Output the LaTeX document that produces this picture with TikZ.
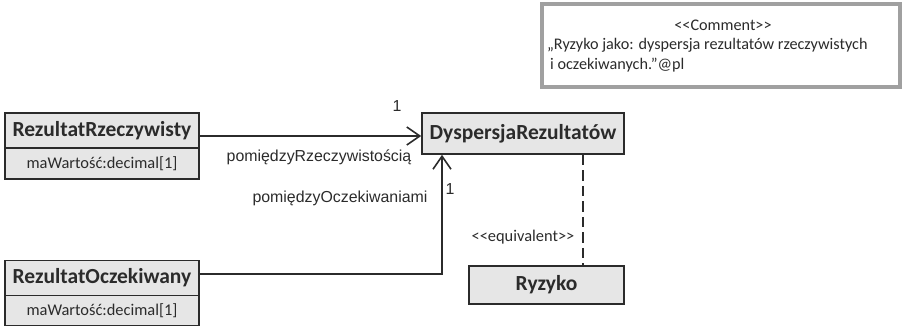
\documentclass[tikz,border=0pt]{standalone}
\usepackage{fontspec}
\setmainfont{Carlito}
\newfontfamily\arialfont{Liberation Sans}
\usetikzlibrary{arrows.meta}
\definecolor{boxfill}{HTML}{E6E6E6}
\definecolor{linec}{HTML}{2B2B2B}
\definecolor{notec}{HTML}{A0A0A0}
\begin{document}
\begin{tikzpicture}[x=1pt,y=-1pt,
  clsname/.style={draw=linec, fill=boxfill, line width=1.6pt, inner sep=0pt,
    font=\bfseries\fontsize{21.5}{24}\selectfont, text=linec},
  clsattr/.style={draw=linec, fill=boxfill, line width=1.6pt, inner sep=0pt,
    font=\fontsize{16.4}{19}\selectfont, text=linec},
  assoc/.style={draw=linec, line width=1.6pt, -{Straight Barb[length=13pt,width=18pt,line width=1.6pt]}},
  rolelab/.style={font=\arialfont\fontsize{15.9}{18}\selectfont, text=linec, inner sep=0pt},
  stereo/.style={font=\fontsize{16.4}{19}\selectfont, text=linec, inner sep=0pt},
  notetext/.style={font=\fontsize{16.2}{19}\selectfont, text=linec, inner sep=0pt}]
\useasboundingbox (0,0) rectangle (903,327);
% comment
\node[draw=notec, line width=3.2pt, fill=white, minimum width=358pt, minimum height=83pt, inner sep=0pt] (note) at (721,45.5) {};
\node[notetext] (notehead) at (723,25) {<{}<Comment>{}>};
\node[notetext, anchor=west] (noteline1) at (547,45) {„Ryzyko jako: dyspersja rezultatów rzeczywistych};
\node[notetext, anchor=west] (noteline2) at (547,65) {\hspace*{3pt}i oczekiwanych.”@pl};
% classes
\node[clsname, minimum width=194pt, minimum height=35pt] (rr) at (102,130.5) {RezultatRzeczywisty};
\node[clsattr, minimum width=194pt, minimum height=31pt] (rra) at (102,163.5) {maWartość:decimal[1]};
\node[clsname, minimum width=194pt, minimum height=35pt] (ro) at (102,278) {RezultatOczekiwany};
\node[clsattr, minimum width=194pt, minimum height=30pt] (roa) at (102,310.5) {maWartość:decimal[1]};
\node[clsname, minimum width=202pt, minimum height=41pt] (dr) at (523,133.5) {DyspersjaRezultatów};
\node[clsname, minimum width=155pt, minimum height=38pt] (ry) at (546.5,285) {Ryzyko};
% connectors
\draw[assoc] ([yshift=-5.5pt]rr.east) -- ([yshift=-2.5pt]dr.west);
\draw[assoc] ([yshift=4pt]ro.east) -| ([xshift=-81pt]dr.south);
\draw[draw=linec, line width=2.2pt, dash pattern=on 10.5pt off 5pt] ([xshift=60pt]dr.south) -- ([xshift=36.5pt]ry.north);
% labels
\node[rolelab] (m1) at (397,106) {1};
\node[rolelab] (l1) at (319,157) {pomiędzyRzeczywistością};
\node[rolelab] (l2) at (340,198) {pomiędzyOczekiwaniami};
\node[rolelab] (m2) at (450,189) {1};
\node[stereo] (eq) at (523,237) {<{}<equivalent>{}>};
\end{tikzpicture}
\end{document}
